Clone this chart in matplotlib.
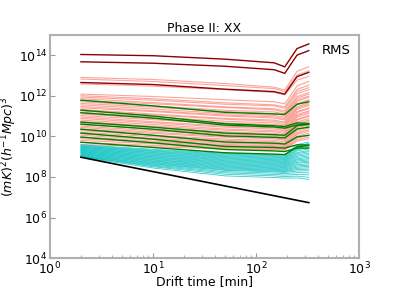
import numpy as np
import matplotlib
matplotlib.use('Agg')
import matplotlib.pyplot as plt

t_key = [2, 10, 50, 150, 190, 250, 325]

# log10 of power, one row per curve, read at t_key
darkred_log = [
    [14.03, 13.97, 13.80, 13.62, 13.42, 14.32, 14.55],
    [13.67, 13.60, 13.45, 13.28, 13.10, 14.00, 14.22],
    [12.65, 12.55, 12.32, 12.20, 12.08, 12.94, 13.15],
]

salmon_log = [
    [12.90, 12.80, 12.60, 12.42, 12.28, 13.20, 13.43],
    [12.82, 12.70, 12.50, 12.35, 12.20, 13.02, 13.22],
    [12.58, 12.47, 12.30, 12.16, 12.04, 12.77, 12.95],
    [12.08, 11.96, 11.80, 11.70, 11.60, 12.48, 12.70],
    [12.00, 11.85, 11.65, 11.55, 11.45, 12.31, 12.52],
    [11.93, 11.78, 11.58, 11.50, 11.38, 12.20, 12.40],
    [11.85, 11.66, 11.45, 11.36, 11.26, 12.09, 12.30],
    [11.76, 11.60, 11.42, 11.30, 11.18, 11.96, 12.15],
    [11.70, 11.50, 11.28, 11.20, 11.10, 11.88, 12.08],
    [11.62, 11.44, 11.22, 11.12, 11.02, 11.79, 11.98],
    [11.55, 11.35, 11.12, 11.03, 10.94, 11.72, 11.92],
    [11.47, 11.26, 11.05, 10.96, 10.86, 11.61, 11.80],
    [11.40, 11.22, 11.00, 10.90, 10.80, 11.57, 11.76],
    [11.32, 11.10, 10.88, 10.80, 10.70, 11.46, 11.65],
    [11.25, 11.05, 10.84, 10.74, 10.64, 11.39, 11.58],
    [11.18, 10.96, 10.74, 10.66, 10.56, 11.33, 11.52],
    [11.10, 10.88, 10.66, 10.58, 10.50, 11.22, 11.40],
    [11.02, 10.82, 10.60, 10.50, 10.42, 11.17, 11.36],
    [10.95, 10.72, 10.50, 10.42, 10.34, 11.07, 11.25],
    [10.88, 10.66, 10.45, 10.36, 10.27, 11.01, 11.20],
    [10.80, 10.58, 10.36, 10.28, 10.20, 10.94, 11.12],
    [10.73, 10.50, 10.30, 10.22, 10.13, 10.84, 11.02],
    [10.66, 10.44, 10.22, 10.14, 10.06, 10.80, 10.98],
    [10.58, 10.36, 10.14, 10.06, 9.98, 10.70, 10.88],
    [10.50, 10.28, 10.08, 10.00, 9.92, 10.62, 10.80],
    [10.44, 10.20, 10.00, 9.93, 9.86, 10.56, 10.74],
    [10.36, 10.14, 9.95, 9.88, 9.80, 10.48, 10.65],
    [10.28, 10.05, 9.86, 9.80, 9.73, 10.41, 10.58],
    [10.20, 9.98, 9.80, 9.73, 9.66, 10.33, 10.50],
    [10.12, 9.90, 9.72, 9.66, 9.60, 10.24, 10.40],
    [10.05, 9.84, 9.66, 9.60, 9.54, 10.16, 10.32],
    [9.97, 9.76, 9.60, 9.54, 9.48, 10.10, 10.25],
    [9.88, 9.70, 9.55, 9.50, 9.44, 10.01, 10.15],
    [9.80, 9.63, 9.50, 9.45, 9.40, 9.92, 10.05],
    [9.70, 9.55, 9.44, 9.40, 9.36, 9.84, 9.96],
    [9.60, 9.48, 9.38, 9.35, 9.32, 9.77, 9.88],
]

green_log = [
    [11.78, 11.50, 11.18, 11.10, 11.08, 11.58, 11.70],
    [11.29, 11.00, 10.62, 10.52, 10.48, 10.66, 10.63],
    [11.16, 10.90, 10.55, 10.46, 10.40, 10.56, 10.58],
    [10.70, 10.45, 10.16, 10.08, 10.05, 10.52, 10.60],
    [10.60, 10.35, 10.02, 9.95, 9.92, 10.36, 10.45],
    [10.35, 10.05, 9.72, 9.66, 9.62, 9.97, 10.05],
    [10.16, 9.86, 9.50, 9.45, 9.42, 9.58, 9.57],
    [9.96, 9.68, 9.35, 9.28, 9.25, 9.42, 9.42],
    [9.71, 9.45, 9.19, 9.12, 9.10, 9.48, 9.55],
]

cyan_log = [
    [9.58, 9.36, 9.16, 9.09, 9.06, 9.59, 9.72],
    [9.55, 9.32, 9.12, 9.05, 9.02, 9.52, 9.65],
    [9.52, 9.28, 9.08, 9.01, 8.98, 9.46, 9.58],
    [9.50, 9.25, 9.04, 8.97, 8.94, 9.40, 9.52],
    [9.47, 9.21, 9.00, 8.93, 8.90, 9.34, 9.45],
    [9.45, 9.18, 8.96, 8.89, 8.86, 9.28, 9.38],
    [9.42, 9.14, 8.92, 8.85, 8.82, 9.20, 9.30],
    [9.40, 9.11, 8.88, 8.81, 8.78, 9.15, 9.24],
    [9.37, 9.07, 8.84, 8.77, 8.74, 9.08, 9.17],
    [9.35, 9.04, 8.80, 8.73, 8.70, 9.02, 9.10],
    [9.32, 9.00, 8.76, 8.69, 8.66, 8.96, 9.03],
    [9.30, 8.97, 8.72, 8.65, 8.62, 8.89, 8.96],
    [9.27, 8.93, 8.68, 8.61, 8.58, 8.84, 8.90],
    [9.25, 8.90, 8.64, 8.57, 8.54, 8.78, 8.84],
    [9.22, 8.86, 8.60, 8.53, 8.50, 8.72, 8.78],
    [9.20, 8.83, 8.56, 8.49, 8.46, 8.67, 8.72],
    [9.17, 8.79, 8.52, 8.45, 8.42, 8.60, 8.65],
    [9.15, 8.76, 8.48, 8.41, 8.38, 8.54, 8.58],
    [9.12, 8.72, 8.44, 8.37, 8.34, 8.48, 8.52],
    [9.10, 8.69, 8.40, 8.33, 8.30, 8.42, 8.45],
    [9.07, 8.65, 8.36, 8.29, 8.26, 8.36, 8.38],
    [9.05, 8.62, 8.32, 8.25, 8.22, 8.29, 8.30],
    [9.03, 8.58, 8.26, 8.19, 8.16, 8.21, 8.20],
    [9.01, 8.54, 8.20, 8.12, 8.09, 8.12, 8.10],
    [9.00, 8.50, 8.13, 8.05, 8.02, 8.04, 7.98],
    [8.98, 8.44, 8.05, 7.97, 7.94, 7.95, 7.88],
]

# thermal noise reference line
noise_t = [2, 325]
noise_v = [9.3e8, 5.4e6]

fig = plt.figure(figsize=(3.99, 2.90), dpi=100)
ax = fig.add_subplot(111)

for row in salmon_log:
    ax.plot(t_key, 10**np.array(row), color='salmon', alpha=0.7, lw=0.8)
for row in darkred_log:
    ax.plot(t_key, 10**np.array(row), color='darkred', lw=1.0)
for row in cyan_log:
    ax.plot(t_key, 10**np.array(row), color='c', alpha=0.8, lw=0.6)
for row in green_log:
    ax.plot(t_key, 10**np.array(row), color='green', lw=1.0)
ax.plot(noise_t, noise_v, color='k', lw=1.2)

ax.set_xscale('log')
ax.set_yscale('log')
ax.set_xlim(1, 1e3)
ax.set_ylim(1e4, 1e15)
ax.set_yticks([1e4, 1e6, 1e8, 1e10, 1e12, 1e14])
ax.tick_params(which='both', direction='in', colors='#999999', labelcolor='k',
               labelsize=9, pad=2)
for s in ax.spines.values():
    s.set_color('#b0b0b0')
    s.set_linewidth(1.5)

ax.text(0.88, 0.93, 'RMS', transform=ax.transAxes, ha='left', va='center', fontsize=9.5)
ax.set_title('Phase II: XX', fontsize=9, pad=2)
ax.set_xlabel('Drift time [min]', fontsize=9)
ax.set_ylabel(r'$(mK)^2(h^{-1}Mpc)^3$', fontsize=9)
ax.xaxis.set_label_coords(0.5, -0.075)
ax.yaxis.set_label_coords(-0.10, 0.5)

fig.savefig('out.png', dpi=100)
